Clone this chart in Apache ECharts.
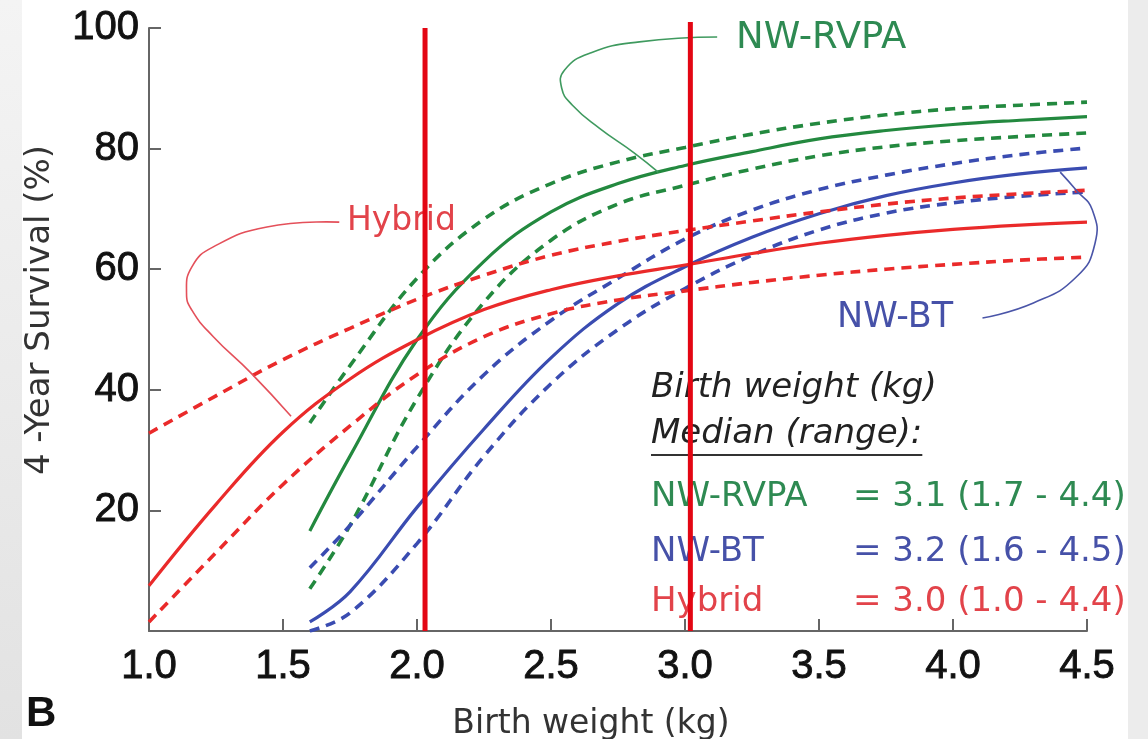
<!DOCTYPE html>
<html>
<head>
<meta charset="utf-8">
<script src="https://cdn.jsdelivr.net/npm/echarts@6/dist/echarts.min.js"></script>
<style>
  html, body { margin: 0; padding: 0; background: #ffffff; }
  #chart { width: 1148px; height: 739px; }
</style>
</head>
<body>
<div id="chart"></div>
<script>
// Birth weight grids (kg): Hybrid spans the full range, the NW groups start at 1.6 kg
const hybridWeights = [1.0, 1.25, 1.5, 1.75, 2.0, 2.25, 2.5, 2.75, 3.0, 3.25, 3.5, 3.75, 4.0, 4.25, 4.5];
const nwWeights = [1.6, 1.75, 2.0, 2.25, 2.5, 2.75, 3.0, 3.25, 3.5, 3.75, 4.0, 4.25, 4.5];

// 4-year survival (%) — Hybrid: estimate with lower / upper bounds
const hybridMean  = [7.5, 21.0, 33.0, 41.8, 48.3, 53.3, 56.6, 58.9, 60.7, 62.6, 64.3, 65.6, 66.6, 67.3, 67.8];
const hybridUpper = [32.8, 39.0, 45.0, 50.2, 55.0, 59.0, 62.3, 64.6, 66.4, 68.0, 69.5, 70.8, 71.8, 72.5, 73.1];
const hybridLower = [1.5, 13.0, 24.3, 34.0, 42.5, 48.8, 52.6, 54.9, 56.4, 57.8, 59.0, 60.0, 60.8, 61.5, 62.0];

// NW-RVPA
const rvpaMean  = [16.6, 29.0, 48.3, 61.3, 69.5, 74.2, 77.2, 79.5, 81.6, 83.0, 84.0, 84.7, 85.3];
const rvpaUpper = [34.5, 44.0, 58.5, 68.3, 74.2, 77.8, 80.2, 82.4, 84.2, 85.6, 86.6, 87.2, 87.7];
const rvpaLower = [7.0, 17.5, 38.5, 54.5, 64.8, 70.8, 73.9, 76.6, 78.8, 80.3, 81.3, 82.0, 82.6];

// NW-BT
const btMean  = [1.5, 6.5, 20.5, 33.5, 45.3, 54.3, 60.4, 65.3, 69.2, 72.2, 74.3, 75.8, 76.8];
const btUpper = [10.5, 17.5, 30.5, 42.5, 51.5, 58.5, 65.0, 69.8, 73.2, 75.6, 77.5, 79.0, 80.1];
const btLower = [0.0, 3.0, 14.5, 29.0, 41.0, 50.0, 56.8, 62.3, 66.5, 69.3, 71.0, 72.1, 72.8];

// Reference birth weights marked with vertical lines
const markerWeights = [2.03, 3.02];
const markerTops = [100, 101];

// Axis tick values
const xTicks = [1.0, 1.5, 2.0, 2.5, 3.0, 3.5, 4.0, 4.5];
const yTicks = [20, 40, 60, 80, 100];

// Median (range) summary rows
const groupNames = ['NW-RVPA', 'NW-BT', 'Hybrid'];
const groupSummary = ['= 3.1 (1.7 - 4.4)', '= 3.2 (1.6 - 4.5)', '= 3.0 (1.0 - 4.4)'];

// Leader lines from the group labels to their curves, in (weight, survival) units
const rvpaLeader   = [[3.12, 98.5], [2.83, 97.7], [2.65, 95.9], [2.55, 93.0], [2.54, 90.0], [2.58, 87.2], [2.68, 83.4], [2.81, 79.3], [2.90, 76.1]];
const hybridLeader = [[1.71, 67.8], [1.44, 67.0], [1.24, 63.7], [1.16, 60.4], [1.14, 56.1], [1.16, 53.2], [1.24, 48.8], [1.38, 42.8], [1.53, 35.6]];
const btLeader     = [[4.11, 51.9], [4.30, 54.4], [4.46, 58.7], [4.53, 64.3], [4.52, 69.8], [4.46, 73.1], [4.40, 76.1]];

const GREEN = '#23893f', BLUE = '#3a4cb1', RED = '#ea2a2a';
const GREEN_TXT = '#2e8a52', BLUE_TXT = '#4651a8', RED_TXT = '#e2434a';
const LABEL_FONT = 'DejaVu Sans';
const TICK_FONT = 'Liberation Sans';

function pairs(xs, vals) {
  return xs.map((w, i) => [w, vals[i]]);
}

function curve(name, xs, vals, color, dashed) {
  return {
    type: 'line', name: name, data: pairs(xs, vals), smooth: 0.4, symbol: 'none', silent: true,
    lineStyle: { color: color, width: dashed ? 3.6 : 3.2, type: dashed ? [10, 7] : 'solid', cap: 'butt' },
    z: 3
  };
}

const series = [
  curve('NW-RVPA upper', nwWeights, rvpaUpper, GREEN, true),
  curve('NW-RVPA', nwWeights, rvpaMean, GREEN, false),
  curve('NW-RVPA lower', nwWeights, rvpaLower, GREEN, true),
  curve('NW-BT upper', nwWeights, btUpper, BLUE, true),
  curve('NW-BT', nwWeights, btMean, BLUE, false),
  curve('NW-BT lower', nwWeights, btLower, BLUE, true),
  curve('Hybrid upper', hybridWeights, hybridUpper, RED, true),
  curve('Hybrid', hybridWeights, hybridMean, RED, false),
  curve('Hybrid lower', hybridWeights, hybridLower, RED, true)
];

markerWeights.forEach((w, i) => {
  series.push({
    type: 'line', data: [[w, 0], [w, markerTops[i]]], symbol: 'none', silent: true, clip: false,
    lineStyle: { color: '#e30613', width: 5 }, z: 10
  });
});

const chart = echarts.init(document.getElementById('chart'), null, { renderer: 'canvas' });
const tickLabel = {
  fontFamily: TICK_FONT, fontSize: 40, color: '#111',
  textBorderColor: '#111', textBorderWidth: 0.9
};
chart.setOption({
  animation: false,
  backgroundColor: '#ffffff',
  grid: { left: 149, right: 61, top: 28, bottom: 108, containLabel: false },
  xAxis: {
    type: 'value', min: xTicks[0], max: xTicks[xTicks.length - 1], interval: 0.5,
    axisLine: { show: true, lineStyle: { color: '#666', width: 2 } },
    axisTick: { show: true, inside: true, length: 12, lineStyle: { color: '#666', width: 2 } },
    axisLabel: Object.assign({ margin: 16, formatter: v => v.toFixed(1) }, tickLabel),
    splitLine: { show: false }
  },
  yAxis: {
    type: 'value', min: 0, max: yTicks[yTicks.length - 1], interval: 20,
    axisLine: { show: true, lineStyle: { color: '#666', width: 2 } },
    axisTick: { show: true, inside: true, length: 12, lineStyle: { color: '#666', width: 2 } },
    axisLabel: Object.assign({ margin: 10, formatter: v => (yTicks.indexOf(v) >= 0 ? String(v) : '') }, tickLabel),
    splitLine: { show: false }
  },
  series: series
});

// Text width helper for the underline under the summary heading
const measureCtx = document.createElement('canvas').getContext('2d');
function textWidth(str, font) { measureCtx.font = font; return measureCtx.measureText(str).width; }

function toPixels(points) {
  return points.map(p => chart.convertToPixel({ gridIndex: 0 }, p));
}
function leaderLine(points, color) {
  return { type: 'polyline', z: 4, silent: true,
    shape: { points: toPixels(points), smooth: 0.5 },
    style: { stroke: color, lineWidth: 1.6, fill: null } };
}

const legendX = 651, eqX = 853;
const rowY = [497, 552, 602];
const rowColors = [GREEN_TXT, BLUE_TXT, RED_TXT];
const legendSize = 34;
const legendFont = legendSize + 'px "' + LABEL_FONT + '"';
const legendItalic = 'italic ' + legendFont;

const graphics = [
  // soft grey margins at the page edges
  { type: 'rect', left: 0, top: 0, shape: { width: 22, height: 739 }, silent: true, z: -10,
    style: { fill: new echarts.graphic.LinearGradient(0, 0, 0, 1, [{ offset: 0, color: '#f4f4f4' }, { offset: 1, color: '#e2e2e2' }]) } },
  { type: 'rect', left: 1128, top: 0, shape: { width: 20, height: 739 }, silent: true, z: -10,
    style: { fill: '#ececec' } },
  // panel letter
  { type: 'text', x: 26, y: 714, z: 5, style: { text: 'B', font: 'bold 42px "Liberation Sans"', fill: '#111', textVerticalAlign: 'middle' } },
  // axis titles
  { type: 'text', x: 40, y: 310, rotation: Math.PI / 2, z: 5,
    style: { text: '4 -Year Survival (%)', font: '34px "' + LABEL_FONT + '"', fill: '#333', textAlign: 'center', textVerticalAlign: 'middle' } },
  { type: 'text', x: 591, y: 724, z: 5,
    style: { text: 'Birth weight (kg)', font: '33px "' + LABEL_FONT + '"', fill: '#333', textAlign: 'center', textVerticalAlign: 'middle' } },
  // group labels on the curves
  { type: 'text', x: 736, y: 38, z: 5, style: { text: 'NW-RVPA', font: '37px "' + LABEL_FONT + '"', fill: GREEN_TXT, textVerticalAlign: 'middle' } },
  { type: 'text', x: 347, y: 221, z: 5, style: { text: 'Hybrid', font: '33px "' + LABEL_FONT + '"', fill: RED_TXT, textVerticalAlign: 'middle' } },
  { type: 'text', x: 837, y: 318, z: 5, style: { text: 'NW-BT', font: '35px "' + LABEL_FONT + '"', fill: BLUE_TXT, textVerticalAlign: 'middle' } },
  leaderLine(rvpaLeader, '#3f9a5f'),
  leaderLine(hybridLeader, '#e4505a'),
  leaderLine(btLeader, '#4a55a8'),
  // summary block
  { type: 'text', x: legendX, y: 388, z: 5, style: { text: 'Birth weight (kg)', font: legendItalic, fill: '#222', textVerticalAlign: 'middle' } },
  { type: 'text', x: legendX, y: 434, z: 5, style: { text: 'Median (range):', font: legendItalic, fill: '#222', textVerticalAlign: 'middle' } },
  { type: 'line', z: 5, silent: true,
    shape: { x1: legendX, y1: 455, x2: legendX + textWidth('Median (range):', legendItalic), y2: 455 },
    style: { stroke: '#333', lineWidth: 2 } }
];

groupNames.forEach((g, i) => {
  graphics.push({ type: 'text', x: legendX, y: rowY[i], z: 5,
    style: { text: g, font: legendFont, fill: rowColors[i], textVerticalAlign: 'middle' } });
  graphics.push({ type: 'text', x: eqX, y: rowY[i], z: 5,
    style: { text: groupSummary[i], font: legendFont, fill: rowColors[i], textVerticalAlign: 'middle' } });
});

chart.setOption({ graphic: { elements: graphics } });
</script>
</body>
</html>
